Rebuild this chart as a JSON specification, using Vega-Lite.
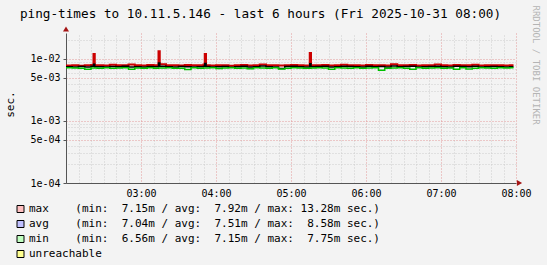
{
  "$schema": "https://vega.github.io/schema/vega-lite/v6.json",
  "width": 450,
  "height": 150,
  "autosize": {"type": "none"},
  "padding": {"left": 66, "top": 33, "right": 31, "bottom": 82},
  "background": "#f3f3f3",
  "title": {
    "text": "ping-times to 10.11.5.146 - last 6 hours (Fri 2025-10-31 08:00)",
    "font": "DejaVu Sans Mono",
    "fontSize": 12.7,
    "fontWeight": "normal",
    "color": "#000000",
    "anchor": "middle",
    "frame": "group",
    "dx": -30.5,
    "baseline": "alphabetic",
    "offset": -26
  },
  "config": {
    "view": {"fill": "white", "stroke": null},
    "axis": {"labelFont": "DejaVu Sans Mono", "titleFont": "DejaVu Sans Mono", "labelColor": "#000000", "titleColor": "#000000", "titleFontWeight": "normal"}
  },
  "datasets": {
    "ping": [
      {"t": "2025-10-31T02:00:00Z", "max": 0.00785, "avg": 0.0075, "min": 0.0072},
      {"t": "2025-10-31T02:05:00Z", "max": 0.0079, "avg": 0.00745, "min": 0.00715},
      {"t": "2025-10-31T02:10:00Z", "max": 0.0078, "avg": 0.00755, "min": 0.0071},
      {"t": "2025-10-31T02:15:00Z", "max": 0.00795, "avg": 0.00745, "min": 0.00685},
      {"t": "2025-10-31T02:20:00Z", "max": 0.008, "avg": 0.0076, "min": 0.00715},
      {"t": "2025-10-31T02:22:00Z", "max": 0.01202, "avg": 0.0082, "min": 0.00715},
      {"t": "2025-10-31T02:23:00Z", "max": 0.00795, "avg": 0.0075, "min": 0.00715},
      {"t": "2025-10-31T02:25:00Z", "max": 0.0079, "avg": 0.0075, "min": 0.00705},
      {"t": "2025-10-31T02:30:00Z", "max": 0.00785, "avg": 0.00745, "min": 0.0072},
      {"t": "2025-10-31T02:35:00Z", "max": 0.00805, "avg": 0.00755, "min": 0.0071},
      {"t": "2025-10-31T02:40:00Z", "max": 0.0079, "avg": 0.0075, "min": 0.00715},
      {"t": "2025-10-31T02:45:00Z", "max": 0.00795, "avg": 0.0076, "min": 0.0072},
      {"t": "2025-10-31T02:50:00Z", "max": 0.0081, "avg": 0.00745, "min": 0.0068},
      {"t": "2025-10-31T02:55:00Z", "max": 0.0079, "avg": 0.0075, "min": 0.00715},
      {"t": "2025-10-31T03:00:00Z", "max": 0.00785, "avg": 0.0074, "min": 0.00705},
      {"t": "2025-10-31T03:05:00Z", "max": 0.008, "avg": 0.00755, "min": 0.0072},
      {"t": "2025-10-31T03:10:00Z", "max": 0.0079, "avg": 0.0075, "min": 0.0071},
      {"t": "2025-10-31T03:14:00Z", "max": 0.01328, "avg": 0.00858, "min": 0.00715},
      {"t": "2025-10-31T03:15:00Z", "max": 0.0082, "avg": 0.00765, "min": 0.00715},
      {"t": "2025-10-31T03:20:00Z", "max": 0.00795, "avg": 0.0075, "min": 0.0072},
      {"t": "2025-10-31T03:25:00Z", "max": 0.0079, "avg": 0.00745, "min": 0.0071},
      {"t": "2025-10-31T03:30:00Z", "max": 0.00785, "avg": 0.00755, "min": 0.00705},
      {"t": "2025-10-31T03:35:00Z", "max": 0.008, "avg": 0.0075, "min": 0.00675},
      {"t": "2025-10-31T03:40:00Z", "max": 0.0079, "avg": 0.0074, "min": 0.0072},
      {"t": "2025-10-31T03:45:00Z", "max": 0.00795, "avg": 0.0075, "min": 0.0071},
      {"t": "2025-10-31T03:50:00Z", "max": 0.0081, "avg": 0.0076, "min": 0.00715},
      {"t": "2025-10-31T03:51:00Z", "max": 0.01205, "avg": 0.00845, "min": 0.00715},
      {"t": "2025-10-31T03:52:00Z", "max": 0.00795, "avg": 0.00755, "min": 0.00715},
      {"t": "2025-10-31T03:55:00Z", "max": 0.00785, "avg": 0.00745, "min": 0.0072},
      {"t": "2025-10-31T04:00:00Z", "max": 0.0079, "avg": 0.0075, "min": 0.007},
      {"t": "2025-10-31T04:05:00Z", "max": 0.00795, "avg": 0.00755, "min": 0.00715},
      {"t": "2025-10-31T04:10:00Z", "max": 0.0078, "avg": 0.00735, "min": 0.0072},
      {"t": "2025-10-31T04:15:00Z", "max": 0.0079, "avg": 0.0075, "min": 0.0071},
      {"t": "2025-10-31T04:20:00Z", "max": 0.008, "avg": 0.0076, "min": 0.00715},
      {"t": "2025-10-31T04:25:00Z", "max": 0.00785, "avg": 0.00745, "min": 0.00695},
      {"t": "2025-10-31T04:30:00Z", "max": 0.0079, "avg": 0.0075, "min": 0.0072},
      {"t": "2025-10-31T04:35:00Z", "max": 0.00815, "avg": 0.0077, "min": 0.00715},
      {"t": "2025-10-31T04:40:00Z", "max": 0.00795, "avg": 0.0075, "min": 0.0071},
      {"t": "2025-10-31T04:45:00Z", "max": 0.0079, "avg": 0.00745, "min": 0.0072},
      {"t": "2025-10-31T04:50:00Z", "max": 0.00785, "avg": 0.00704, "min": 0.0069},
      {"t": "2025-10-31T04:55:00Z", "max": 0.00795, "avg": 0.00755, "min": 0.00705},
      {"t": "2025-10-31T05:00:00Z", "max": 0.008, "avg": 0.0076, "min": 0.0072},
      {"t": "2025-10-31T05:05:00Z", "max": 0.0079, "avg": 0.0075, "min": 0.00715},
      {"t": "2025-10-31T05:10:00Z", "max": 0.00785, "avg": 0.00745, "min": 0.0071},
      {"t": "2025-10-31T05:15:00Z", "max": 0.0125, "avg": 0.0084, "min": 0.0071},
      {"t": "2025-10-31T05:16:00Z", "max": 0.0079, "avg": 0.0075, "min": 0.00715},
      {"t": "2025-10-31T05:20:00Z", "max": 0.00795, "avg": 0.00755, "min": 0.0072},
      {"t": "2025-10-31T05:25:00Z", "max": 0.008, "avg": 0.0076, "min": 0.00715},
      {"t": "2025-10-31T05:30:00Z", "max": 0.00785, "avg": 0.0074, "min": 0.0068},
      {"t": "2025-10-31T05:35:00Z", "max": 0.0079, "avg": 0.0075, "min": 0.0072},
      {"t": "2025-10-31T05:40:00Z", "max": 0.00805, "avg": 0.00765, "min": 0.00715},
      {"t": "2025-10-31T05:45:00Z", "max": 0.00795, "avg": 0.00755, "min": 0.00705},
      {"t": "2025-10-31T05:50:00Z", "max": 0.0079, "avg": 0.0075, "min": 0.0072},
      {"t": "2025-10-31T05:55:00Z", "max": 0.00785, "avg": 0.0074, "min": 0.0071},
      {"t": "2025-10-31T06:00:00Z", "max": 0.008, "avg": 0.0076, "min": 0.00715},
      {"t": "2025-10-31T06:05:00Z", "max": 0.0079, "avg": 0.0075, "min": 0.0072},
      {"t": "2025-10-31T06:10:00Z", "max": 0.00795, "avg": 0.00755, "min": 0.00656},
      {"t": "2025-10-31T06:15:00Z", "max": 0.00785, "avg": 0.00745, "min": 0.0071},
      {"t": "2025-10-31T06:20:00Z", "max": 0.0082, "avg": 0.0077, "min": 0.00715},
      {"t": "2025-10-31T06:25:00Z", "max": 0.0079, "avg": 0.0075, "min": 0.0072},
      {"t": "2025-10-31T06:30:00Z", "max": 0.00795, "avg": 0.00755, "min": 0.0071},
      {"t": "2025-10-31T06:35:00Z", "max": 0.008, "avg": 0.0076, "min": 0.00685},
      {"t": "2025-10-31T06:40:00Z", "max": 0.00785, "avg": 0.0074, "min": 0.0072},
      {"t": "2025-10-31T06:45:00Z", "max": 0.0079, "avg": 0.0075, "min": 0.00705},
      {"t": "2025-10-31T06:50:00Z", "max": 0.00795, "avg": 0.00755, "min": 0.00715},
      {"t": "2025-10-31T06:55:00Z", "max": 0.0081, "avg": 0.00765, "min": 0.0072},
      {"t": "2025-10-31T07:00:00Z", "max": 0.0079, "avg": 0.0075, "min": 0.0071},
      {"t": "2025-10-31T07:05:00Z", "max": 0.00785, "avg": 0.0074, "min": 0.00715},
      {"t": "2025-10-31T07:10:00Z", "max": 0.008, "avg": 0.0076, "min": 0.00685},
      {"t": "2025-10-31T07:15:00Z", "max": 0.00795, "avg": 0.00755, "min": 0.0072},
      {"t": "2025-10-31T07:20:00Z", "max": 0.0079, "avg": 0.0075, "min": 0.0069},
      {"t": "2025-10-31T07:25:00Z", "max": 0.00805, "avg": 0.0076, "min": 0.0071},
      {"t": "2025-10-31T07:30:00Z", "max": 0.00785, "avg": 0.00745, "min": 0.0072},
      {"t": "2025-10-31T07:35:00Z", "max": 0.0079, "avg": 0.0075, "min": 0.00715},
      {"t": "2025-10-31T07:40:00Z", "max": 0.00795, "avg": 0.00755, "min": 0.0071},
      {"t": "2025-10-31T07:45:00Z", "max": 0.0079, "avg": 0.0075, "min": 0.0072},
      {"t": "2025-10-31T07:50:00Z", "max": 0.00785, "avg": 0.00745, "min": 0.00715},
      {"t": "2025-10-31T07:55:00Z", "max": 0.0079, "avg": 0.0075, "min": 0.0072},
      {"t": "2025-10-31T07:58:00Z", "max": 0.0079, "avg": 0.0075, "min": 0.0072}
    ],
    "legend": [
      {"s": "max"},
      {"s": "avg"},
      {"s": "min"},
      {"s": "unreachable"}
    ]
  },
  "layer": [
    {
      "data": {"name": "ping"},
      "mark": {"type": "line", "interpolate": "step-after", "color": "#cc0000", "strokeWidth": 2},
      "encoding": {
        "x": {
          "field": "t", "type": "temporal",
          "scale": {"type": "utc", "domain": [1761876000000, 1761897600000]},
          "axis": {
            "orient": "bottom",
            "values": [1761879600000, 1761883200000, 1761886800000, 1761890400000, 1761894000000, 1761897600000],
            "labelExpr": "utcFormat(datum.value, '%H:%M')",
            "grid": true, "gridColor": "#e29a9a", "gridDash": [1, 2], "gridOpacity": 1,
            "ticks": false, "domain": true, "domainColor": "#555555", "domainWidth": 1,
            "labelPadding": 5, "labelFontSize": 10, "labelFlush": false, "labelOverlap": false,
            "title": null
          }
        },
        "y": {
          "field": "max", "type": "quantitative",
          "scale": {"type": "log", "domain": [0.0001, 0.0262], "nice": false},
          "axis": {
            "orient": "left",
            "values": [0.0001, 0.0005, 0.001, 0.005, 0.01],
            "labelExpr": "datum.value < 0.0002 ? '1e-04' : datum.value < 0.0007 ? '5e-04' : datum.value < 0.002 ? '1e-03' : datum.value < 0.007 ? '5e-03' : '1e-02'",
            "grid": true, "gridColor": "#e29a9a", "gridDash": [1, 2], "gridOpacity": 1,
            "ticks": true, "tickSize": 3, "tickColor": "#555555",
            "domain": true, "domainColor": "#555555", "domainWidth": 1,
            "labelPadding": 3, "labelFontSize": 10, "labelBaseline": "middle",
            "title": "sec.", "titleFontSize": 11, "titleAngle": -90, "titleX": -55.3, "titleY": 71,
            "titleAlign": "center", "titleBaseline": "middle"
          }
        }
      }
    },
    {
      "data": {"name": "ping"},
      "mark": {"type": "line", "interpolate": "step-after", "color": "#000000", "strokeWidth": 1.5},
      "encoding": {
        "x": {"field": "t", "type": "temporal", "axis": null},
        "y": {"field": "avg", "type": "quantitative", "axis": null}
      }
    },
    {
      "data": {"name": "ping"},
      "mark": {"type": "line", "interpolate": "step-after", "color": "#00c000", "strokeWidth": 1.5},
      "encoding": {
        "x": {
          "field": "t", "type": "temporal",
          "axis": {
            "orient": "top",
            "values": [1761876600000, 1761877200000, 1761877800000, 1761878400000, 1761879000000,
                       1761880200000, 1761880800000, 1761881400000, 1761882000000, 1761882600000,
                       1761883800000, 1761884400000, 1761885000000, 1761885600000, 1761886200000,
                       1761887400000, 1761888000000, 1761888600000, 1761889200000, 1761889800000,
                       1761891000000, 1761891600000, 1761892200000, 1761892800000, 1761893400000,
                       1761894600000, 1761895200000, 1761895800000, 1761896400000, 1761897000000],
            "labels": false, "ticks": false, "domain": false,
            "grid": true, "gridColor": "#cccccc", "gridDash": [1, 2],
            "title": null
          }
        },
        "y": {
          "field": "min", "type": "quantitative",
          "axis": {
            "orient": "right",
            "values": [0.0002, 0.0003, 0.0004, 0.0006, 0.0007, 0.0008, 0.0009, 0.002, 0.003, 0.004, 0.006, 0.007, 0.008, 0.009, 0.02],
            "labels": false, "ticks": false, "domain": false,
            "grid": true, "gridColor": "#cccccc", "gridDash": [1, 2],
            "title": "RRDTOOL / TOBI OETIKER",
            "titleFont": "DejaVu Sans Mono", "titleFontSize": 9, "titleColor": "#b4b4b4", "titleLimit": 400,
            "titleAngle": 90, "titleX": 19.7, "titleY": -28, "titleAlign": "left", "titleBaseline": "middle"
          }
        }
      }
    },
    {
      "data": {"name": "legend"},
      "mark": {"type": "point", "filled": true, "size": 0},
      "encoding": {
        "fill": {
          "field": "s", "type": "nominal",
          "scale": {"domain": ["max", "avg", "min", "unreachable"], "range": ["#ffc0c0", "#c0c0ff", "#c0ffc0", "#ffff90"]},
          "legend": {
            "orient": "none", "legendX": -51, "legendY": 170.5,
            "title": null, "padding": 0, "direction": "vertical",
            "symbolType": "square", "symbolSize": 49, "symbolStrokeColor": "#000000", "symbolStrokeWidth": 1, "symbolOpacity": 1,
            "labelFont": "DejaVu Sans Mono", "labelFontSize": 11, "labelColor": "#000000", "labelLimit": 0, "labelOffset": 3, "rowPadding": 3,
            "labelExpr": "datum.label == 'max' ? 'max\u00a0\u00a0\u00a0\u00a0(min:\u00a0\u00a07.15m\u00a0/\u00a0avg:\u00a0\u00a07.92m\u00a0/\u00a0max:\u00a013.28m\u00a0sec.)' : datum.label == 'avg' ? 'avg\u00a0\u00a0\u00a0\u00a0(min:\u00a0\u00a07.04m\u00a0/\u00a0avg:\u00a0\u00a07.51m\u00a0/\u00a0max:\u00a0\u00a08.58m\u00a0sec.)' : datum.label == 'min' ? 'min\u00a0\u00a0\u00a0\u00a0(min:\u00a0\u00a06.56m\u00a0/\u00a0avg:\u00a0\u00a07.15m\u00a0/\u00a0max:\u00a0\u00a07.75m\u00a0sec.)' : 'unreachable'"
          }
        }
      }
    },
    {
      "data": {"values": [{}]},
      "mark": {"type": "point", "shape": "triangle-right", "filled": true, "color": "#a51515", "opacity": 1, "size": 36, "xOffset": 3.5},
      "encoding": {
        "x": {"datum": 1761897600000, "type": "temporal", "axis": null},
        "y": {"datum": 0.0001, "type": "quantitative", "axis": null}
      }
    },
    {
      "data": {"values": [{}]},
      "mark": {"type": "point", "shape": "triangle-up", "filled": true, "color": "#a51515", "opacity": 1, "size": 36, "yOffset": -4},
      "encoding": {
        "x": {"datum": 1761876000000, "type": "temporal", "axis": null},
        "y": {"datum": 0.0262, "type": "quantitative", "axis": null}
      }
    }
  ],
  "resolve": {"axis": {"x": "independent", "y": "independent"}}
}
